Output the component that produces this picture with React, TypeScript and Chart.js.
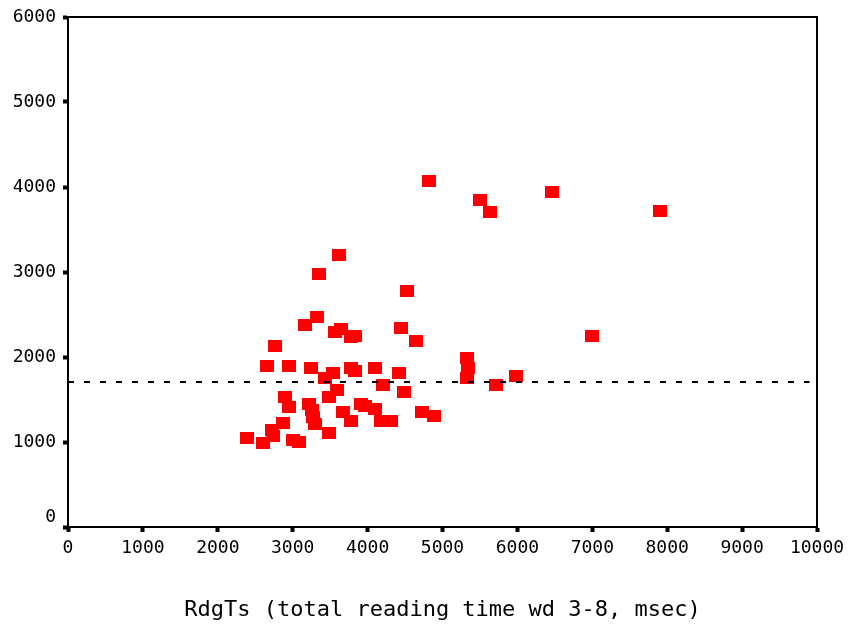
import React, { useEffect, useRef } from "react";
import { Chart, registerables } from "chart.js";

Chart.register(...registerables);

const xValues: number[] = [
  2390, 2603, 2657, 2764, 2724, 2737, 2870, 2897, 2951, 2951,
  3004, 3084, 3164, 3218, 3258, 3271, 3298, 3244, 3324, 3351,
  3431, 3485, 3485, 3538, 3565, 3591, 3618, 3645, 3672, 3778,
  3778, 3778, 3832, 3832, 3912, 3965, 4099, 4099, 4179, 4206,
  4312, 4419, 4446, 4486, 4526, 4646, 4726, 4820, 4887, 5327,
  5340, 5327, 5714, 5501, 5634, 5981, 6462, 6996, 7904,
];
const yValues: number[] = [
  1047, 988, 1894, 2129, 1141, 1071, 1224, 1529, 1412, 1894,
  1024, 1000, 2376, 1447, 1376, 1294, 1212, 1871, 2471, 2976,
  1753, 1529, 1106, 1812, 2294, 1612, 3200, 2329, 1353, 2235,
  1247, 1871, 2247, 1835, 1447, 1424, 1388, 1871, 1247, 1671,
  1247, 1812, 2341, 1588, 2776, 2188, 1353, 4071, 1306, 1988,
  1871, 1753, 1671, 3847, 3706, 1776, 3941, 2247, 3718,
];
const refLineX: number[] = [0, 9900];
const refLineY: number[] = [1705, 1705];
const xTicks: number[] = [0, 1000, 2000, 3000, 4000, 5000, 6000, 7000, 8000, 9000, 10000];
const yTicks: number[] = [0, 1000, 2000, 3000, 4000, 5000, 6000];
const xTitle = "RdgTs (total reading time wd 3-8, msec)";

const FONT = "'DejaVu Sans Mono', monospace";

export default function App() {
  const ref = useRef<HTMLCanvasElement | null>(null);
  useEffect(() => {
    document.body.style.margin = "0";
    const canvas = ref.current!;
    const marker = document.createElement("canvas");
    marker.width = 14;
    marker.height = 12;
    const mctx = marker.getContext("2d")!;
    mctx.fillStyle = "#ff0000";
    mctx.fillRect(0, 0, 14, 12);

    const framePlugin = {
      id: "frame",
      afterDatasetsDraw(chart: any) {
        const { ctx, chartArea } = chart;
        ctx.save();
        ctx.strokeStyle = "#000";
        ctx.lineWidth = 2;
        ctx.beginPath();
        ctx.moveTo(chartArea.left, chartArea.top);
        ctx.lineTo(chartArea.right, chartArea.top);
        ctx.lineTo(chartArea.right, chartArea.bottom);
        ctx.stroke();
        const ys = chart.scales.y;
        ctx.fillStyle = "#000";
        ctx.font = "18px " + FONT;
        ctx.textAlign = "right";
        ctx.textBaseline = "middle";
        ctx.fillText("0", chartArea.left - 12, ys.getPixelForValue(0) - 10);
        ctx.restore();
      },
    };

    const chart = new Chart(canvas, {
      type: "scatter",
      data: {
        datasets: [
          {
            type: "line",
            data: refLineX.map((x, i) => ({ x, y: refLineY[i] })),
            borderColor: "#000",
            borderWidth: 2,
            borderDash: [6, 10],
            pointRadius: 0,
            fill: false,
          } as any,
          {
            data: xValues.map((x, i) => ({ x, y: yValues[i] })),
            pointStyle: marker,
            backgroundColor: "#ff0000",
            borderColor: "#ff0000",
          } as any,
        ],
      },
      options: {
        animation: false,
        responsive: false,
        devicePixelRatio: 1,
        layout: { padding: { top: 17, right: 33, left: 0, bottom: 0 } },
        plugins: { legend: { display: false }, tooltip: { enabled: false } },
        scales: {
          x: {
            type: "linear",
            min: 0,
            max: 10000,
            afterFit: (s: any) => { s.height = 101; s.paddingRight = 0; s.paddingLeft = 0; },
            afterBuildTicks: (s: any) => { s.ticks = xTicks.map((v) => ({ value: v })); },
            border: { display: true, color: "#000", width: 2 },
            grid: { drawOnChartArea: false, drawTicks: true, tickLength: 5, tickWidth: 4, tickColor: "#000", color: "#000" },
            ticks: { color: "#000", font: { family: FONT, size: 18 }, padding: 6, maxRotation: 0, autoSkip: false, callback: (v: any) => String(v) },
            title: { display: true, text: xTitle, color: "#000", font: { family: FONT, size: 22 }, padding: { top: 0, bottom: 5 } },
          },
          y: {
            type: "linear",
            min: 0,
            max: 6000,
            afterFit: (s: any) => { s.width = 68; s.paddingTop = 0; s.paddingBottom = 0; },
            afterBuildTicks: (s: any) => { s.ticks = yTicks.map((v) => ({ value: v })); },
            border: { display: true, color: "#000", width: 2 },
            grid: { drawOnChartArea: false, drawTicks: true, tickLength: 5, tickWidth: 4, tickColor: "#000", color: "#000" },
            ticks: {
              color: "#000",
              font: { family: FONT, size: 18 },
              padding: 7,
              callback: (v: any) => (v === 0 ? "" : String(v)),
            },
          },
        },
      },
      plugins: [framePlugin],
    });
    return () => chart.destroy();
  }, []);
  return <canvas ref={ref} width={850} height={628} style={{ display: "block" }} />;
}
